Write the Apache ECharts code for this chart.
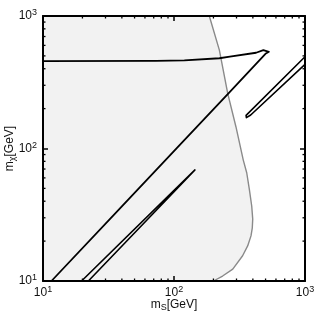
<!DOCTYPE html>
<html>
<head>
<meta charset="utf-8">
<script src="https://cdn.jsdelivr.net/npm/echarts@6.0.0/dist/echarts.min.js"></script>
<style>html,body{margin:0;padding:0;background:#fff}#c{width:316px;height:316px}</style>
</head>
<body>
<div id="c"></div>
<script>
// ---- data ----
const xMin = 10, xMax = 1000, yMin = 10, yMax = 1000;
const minorTicks = [20, 30, 40, 50, 60, 70, 80, 90, 200, 300, 400, 500, 600, 700, 800, 900];

// gray boundary of the shaded (allowed) region, top to bottom
const boundaryX = [186, 222, 257, 297, 338, 359, 376, 392, 399, 396, 387, 365, 334, 281, 235, 200];
const boundaryY = [1000, 553, 261, 146, 81.8, 65.6, 49.2, 36.8, 29.3, 25.2, 21.9, 18.4, 15.5, 12.3, 10.9, 10];

// main black contour: diagonal up, tip, horizontal branch back to the left
const mainX = [11.6, 38.7, 105, 267, 499, 530, 518, 481, 423, 267, 222, 120, 72.9, 10];
const mainY = [10, 35.3, 100.5, 268, 518, 537, 552, 553, 528, 493, 480, 462, 458, 457];

// narrow loop entering from the right edge
const loopRX = [1000, 355, 357, 364, 385, 1000];
const loopRY = [493, 178, 171, 168, 179, 432];

// narrow loop from the bottom edge
const loopLX = [19.7, 144.5, 22.2];
const loopLY = [10, 68.9, 10];

const zip = (xs, ys) => xs.map((x, i) => [x, ys[i]]);

const chart = echarts.init(document.getElementById('c'), null, {renderer: 'canvas'});

const FONT = 'Liberation Sans';
const supLabel = v => {
  const e = Math.round(Math.log10(v));
  return '{b|10}{s|' + e + '}';
};
const labelRich = {
  b: {fontSize: 12, fontFamily: FONT, color: '#111', lineHeight: 15},
  s: {fontSize: 9, fontFamily: FONT, color: '#111', verticalAlign: 'top', lineHeight: 9}
};
const nameRich = {
  i: {fontSize: 12, fontFamily: FONT, color: '#111', lineHeight: 15},
  sub: {fontSize: 9, fontFamily: FONT, color: '#111', verticalAlign: 'bottom', lineHeight: 11}
};
const axisCommon = {
  type: 'log', logBase: 10,
  axisLine: {onZero: false, lineStyle: {color: '#000', width: 2}},
  axisTick: {inside: true, length: 5, lineStyle: {color: '#000', width: 1.5}},
  splitLine: {show: false},
  z: 10
};

const tickLen = 2.5;
const option = {
  animation: false,
  grid: {left: 43, right: 11, top: 16, bottom: 35, show: false, containLabel: false, outerBoundsMode: 'none'},
  xAxis: [
    Object.assign({}, axisCommon, {
      min: xMin, max: xMax, position: 'bottom',
      axisLabel: {margin: 4, formatter: supLabel, rich: labelRich},
      name: '{i|m}{sub|S}{i|[GeV]}', nameLocation: 'middle', nameGap: 16, nameMoveOverlap: false,
      nameTextStyle: {rich: nameRich}
    }),
    Object.assign({}, axisCommon, {
      min: xMin, max: xMax, position: 'top', axisLabel: {show: false}
    })
  ],
  yAxis: [
    Object.assign({}, axisCommon, {
      min: yMin, max: yMax, position: 'left',
      axisLabel: {margin: 6, formatter: supLabel, rich: labelRich},
      name: '{i|m}{sub|χ}{i|[GeV]}', nameLocation: 'middle', nameGap: 26, nameRotate: 90, nameMoveOverlap: false,
      nameTextStyle: {rich: nameRich}
    }),
    Object.assign({}, axisCommon, {
      min: yMin, max: yMax, position: 'right', axisLabel: {show: false}
    })
  ],
  series: [
    {
      type: 'custom', name: 'region', z: 1, silent: true,
      data: [[xMin, yMin]],
      renderItem: function (params, api) {
        const pts = [api.coord([xMin, yMax])];
        for (let i = 0; i < boundaryX.length; i++) pts.push(api.coord([boundaryX[i], boundaryY[i]]));
        pts.push(api.coord([xMin, yMin]));
        return {type: 'polygon', shape: {points: pts}, style: {fill: '#f2f2f2', stroke: null}};
      }
    },
    {
      type: 'line', name: 'boundary', z: 3, data: zip(boundaryX, boundaryY),
      showSymbol: false, symbol: 'none', lineStyle: {color: '#8a8a8a', width: 1.4}
    },
    {
      type: 'line', name: 'main', z: 4, data: zip(mainX, mainY),
      showSymbol: false, symbol: 'none', lineStyle: {color: '#000', width: 1.8, join: 'round'}
    },
    {
      type: 'line', name: 'loopR', z: 4, data: zip(loopRX, loopRY),
      showSymbol: false, symbol: 'none', lineStyle: {color: '#000', width: 1.6, join: 'round'}
    },
    {
      type: 'line', name: 'loopL', z: 4, data: zip(loopLX, loopLY),
      showSymbol: false, symbol: 'none', lineStyle: {color: '#000', width: 1.6, join: 'round'}
    },
    {
      type: 'custom', name: 'xMinor', z: 11, silent: true, clip: false,
      data: minorTicks.map(v => [v, yMin]),
      renderItem: function (params, api) {
        const v = api.value(0);
        const b = api.coord([v, yMin]), t = api.coord([v, yMax]);
        const st = {stroke: '#000', lineWidth: 1.3};
        return {type: 'group', children: [
          {type: 'line', shape: {x1: b[0], y1: b[1], x2: b[0], y2: b[1] - tickLen}, style: st},
          {type: 'line', shape: {x1: t[0], y1: t[1], x2: t[0], y2: t[1] + tickLen}, style: st}
        ]};
      }
    },
    {
      type: 'custom', name: 'yMinor', z: 11, silent: true, clip: false,
      data: minorTicks.map(v => [xMin, v]),
      renderItem: function (params, api) {
        const v = api.value(1);
        const l = api.coord([xMin, v]), r = api.coord([xMax, v]);
        const st = {stroke: '#000', lineWidth: 1.3};
        return {type: 'group', children: [
          {type: 'line', shape: {x1: l[0], y1: l[1], x2: l[0] + tickLen, y2: l[1]}, style: st},
          {type: 'line', shape: {x1: r[0], y1: r[1], x2: r[0] - tickLen, y2: r[1]}, style: st}
        ]};
      }
    }
  ]
};
chart.setOption(option);
</script>
</body>
</html>
